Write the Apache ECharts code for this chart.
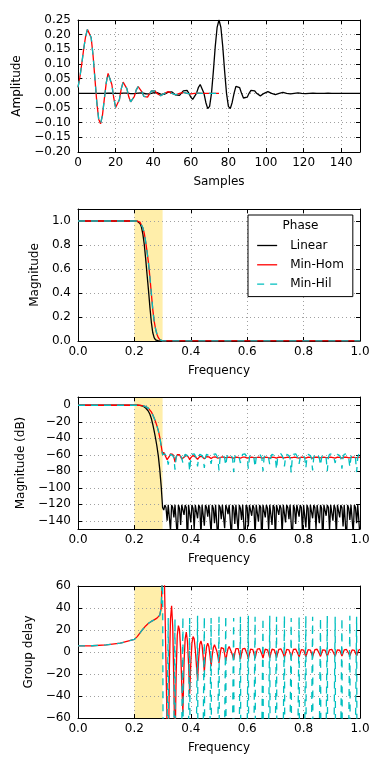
<!DOCTYPE html>
<html><head><meta charset="utf-8">
<script src="https://cdn.jsdelivr.net/npm/echarts@6/dist/echarts.min.js"></script>
<style>html,body{margin:0;padding:0;background:#fff}#c{width:384px;height:768px}</style>
</head><body><div id="c"></div>
<script>
// ---------- data ----------
const seriesNames = ['Linear', 'Min-Hom', 'Min-Hil'];
const bandEdges = [0.2, 0.3];

// impulse responses (index = sample number)
const hLinear = [0, 0, 0, 0, 0, -0.0001, 0, 0, 0.0001, 0.0001, 0.0001, 0, -0.0001, -0.0002, -0.0001, 0, 0.0002, 0.0003, 0.0002, 0, -0.0003, -0.0004, -0.0003, 0, 0.0004, 0.0006, 0.0005, 0, -0.0007, -0.0010, -0.0008, 0, 0.0010, 0.0015, 0.0012, 0, -0.0014, -0.0021, -0.0016, 0, 0.0019, 0.0030, 0.0023, 0, -0.0028, -0.0042, -0.0033, 0, 0.0040, 0.0061, 0.0047, 0, -0.0056, -0.0087, -0.0068, 0, 0.0085, 0.0133, 0.0103, 0, -0.0131, -0.0205, -0.0159, 0, 0.0192, 0.0302, 0.0238, 0, -0.0312, -0.0520, -0.0446, 0, 0.0750, 0.1592, 0.2251, 0.25,
 0.2251, 0.1592, 0.0750, 0, -0.0446, -0.0520, -0.0312, 0, 0.0238, 0.0302, 0.0192, 0, -0.0159, -0.0205, -0.0131, 0, 0.0103, 0.0133, 0.0085, 0, -0.0068, -0.0087, -0.0056, 0, 0.0047, 0.0061, 0.0040, 0, -0.0033, -0.0042, -0.0028, 0, 0.0023, 0.0030, 0.0019, 0, -0.0016, -0.0021, -0.0014, 0, 0.0012, 0.0015, 0.0010, 0, -0.0008, -0.0010, -0.0007, 0, 0.0005, 0.0006, 0.0004, 0, -0.0003, -0.0004, -0.0003, 0, 0.0002, 0.0003, 0.0002, 0, -0.0001, -0.0002, -0.0001, 0, 0.0001, 0.0001, 0.0001, 0, 0, -0.0001, 0, 0, 0, 0, 0];
const hMinHom = [0.020, 0.055, 0.100, 0.150, 0.192, 0.218, 0.220, 0.190, 0.130, 0.050, -0.030, -0.088, -0.104, -0.075, -0.020, 0.035, 0.068, 0.066, 0.030, -0.015, -0.048, -0.050, -0.022, 0.015, 0.038, 0.039, 0.016, -0.012, -0.029, -0.029, -0.010, 0.012, 0.023, 0.020, 0.005, -0.010, -0.016, -0.013, -0.002, 0.008, 0.011, 0.008, 0, -0.006, -0.008, -0.005, 0, 0.004, 0.006, 0.004, 0, -0.003, -0.005, -0.003, 0, 0.002, 0.003, 0.002, 0, -0.002, -0.002, -0.001, 0, 0.001, 0.001, 0.001, 0, 0, 0, 0, 0, 0, 0, 0, 0, 0];
const hMinHil = [0.020, 0.055, 0.100, 0.150, 0.192, 0.218, 0.220, 0.190, 0.130, 0.050, -0.030, -0.088, -0.104, -0.075, -0.020, 0.035, 0.068, 0.066, 0.030, -0.015, -0.048, -0.050, -0.022, 0.015, 0.038, 0.039, 0.016, -0.012, -0.029, -0.029, -0.010, 0.012, 0.023, 0.020, 0.005, -0.010, -0.016, -0.013, -0.002, 0.008, 0.011, 0.008, 0, -0.006, -0.008, -0.005, 0, 0.004, 0.006, 0.004, 0, -0.003, -0.005, -0.003, 0, 0.002, 0.003, 0.002, 0, -0.002, -0.002, -0.001, 0, 0.001, 0.001, 0.001, 0, 0, 0, 0, 0, 0, 0, 0, 0, 0];

// passband / transition frequency grid
const freqA = [0, 0.05, 0.1, 0.15, 0.2, 0.205, 0.21, 0.215, 0.22, 0.225, 0.23, 0.235, 0.24, 0.245, 0.25, 0.255, 0.26, 0.265, 0.27, 0.275, 0.28, 0.285, 0.29, 0.295, 0.3];
const magLinA = [1, 1, 1, 1, 1, 0.999, 0.998, 0.994, 0.979, 0.95, 0.891, 0.804, 0.684, 0.55, 0.422, 0.282, 0.158, 0.071, 0.028, 0.01, 0.003, 0.0008, 0.0001, 0, 0];
const magMinA = [1, 1, 1, 1, 1, 1, 0.999, 0.997, 0.99, 0.975, 0.944, 0.897, 0.827, 0.742, 0.65, 0.531, 0.398, 0.266, 0.168, 0.1, 0.056, 0.028, 0.011, 0.0035, 0.001];
const dbLinA = [0, 0, 0, 0, 0, -0.01, -0.02, -0.05, -0.18, -0.45, -1.0, -1.9, -3.3, -5.2, -7.5, -11, -16, -23, -31, -40, -50, -62, -78, -98, -124];
const dbMinA = [0, 0, 0, 0, 0, 0, -0.01, -0.025, -0.09, -0.22, -0.5, -0.95, -1.65, -2.6, -3.75, -5.5, -8, -11.5, -15.5, -20, -25, -31, -39, -49, -60];
const gdMinA = [5.5, 5.7, 6.4, 8, 11.5, 12.6, 14, 15.6, 17.3, 19, 20.7, 22.3, 23.7, 25, 26.1, 27, 27.8, 28.5, 29.2, 30, 30.8, 31.8, 33.5, 40, 75];

// stopband magnitude (linear scale)
const magStopFreq = [0.65, 1.0];
const magLinStop = [0, 0];
const magMinStop = [0.0007, 0.0007];

// stopband frequency grid
const freqB = [0.304, 0.308, 0.312, 0.316, 0.320, 0.324, 0.328, 0.332, 0.336, 0.340,
 0.344, 0.348, 0.352, 0.356, 0.360, 0.364, 0.368, 0.372, 0.376, 0.380,
 0.384, 0.388, 0.392, 0.396, 0.400, 0.404, 0.408, 0.412, 0.416, 0.420,
 0.424, 0.428, 0.432, 0.436, 0.440, 0.444, 0.448, 0.452, 0.456, 0.460,
 0.464, 0.468, 0.472, 0.476, 0.480, 0.484, 0.488, 0.492, 0.496, 0.500,
 0.504, 0.508, 0.512, 0.516, 0.520, 0.524, 0.528, 0.532, 0.536, 0.540,
 0.544, 0.548, 0.552, 0.556, 0.560, 0.564, 0.568, 0.572, 0.576, 0.580,
 0.584, 0.588, 0.592, 0.596, 0.600, 0.604, 0.608, 0.612, 0.616, 0.620,
 0.624, 0.628, 0.632, 0.636, 0.640, 0.644, 0.648, 0.652, 0.656, 0.660,
 0.664, 0.668, 0.672, 0.676, 0.680, 0.684, 0.688, 0.692, 0.696, 0.700,
 0.704, 0.708, 0.712, 0.716, 0.720, 0.724, 0.728, 0.732, 0.736, 0.740,
 0.744, 0.748, 0.752, 0.756, 0.760, 0.764, 0.768, 0.772, 0.776, 0.780,
 0.784, 0.788, 0.792, 0.796, 0.800, 0.804, 0.808, 0.812, 0.816, 0.820,
 0.824, 0.828, 0.832, 0.836, 0.840, 0.844, 0.848, 0.852, 0.856, 0.860,
 0.864, 0.868, 0.872, 0.876, 0.880, 0.884, 0.888, 0.892, 0.896, 0.900,
 0.904, 0.908, 0.912, 0.916, 0.920, 0.924, 0.928, 0.932, 0.936, 0.940,
 0.944, 0.948, 0.952, 0.956, 0.960, 0.964, 0.968, 0.972, 0.976, 0.980,
 0.984, 0.988, 0.992, 0.996, 1.000];
const dbLinB = [-127,
 -121,-124,-140, -120.8,-123,-152, -121,-124,-136, -120.7,-123,-160, -121,-125,-145, -120.8,-123,-133, -121,-124,-170, -120.7,-123,-142, -121,-125,-150, -120.8,-123,-137, -121,-124,-158, -120.7,-123,-146,
 -121,-124,-135, -120.8,-123,-155, -121,-125,-143, -120.7,-123,-165, -121,-124,-138, -120.8,-123,-149, -121,-125,-132, -120.7,-123,-161, -121,-124,-144, -120.8,-123,-153, -121,-125,-139, -120.7,-123,-168,
 -121,-124,-147, -120.8,-123,-134, -121,-125,-159, -120.7,-123,-141, -121,-124,-172, -120.8,-123,-136, -121,-125,-151, -120.7,-123,-145, -121,-124,-163, -120.8,-123,-133, -121,-125,-156, -120.7,-123,-142,
 -121,-124,-138, -120.8,-123,-166, -121,-125,-144, -120.7,-123,-135, -121,-124,-154, -120.8,-123,-148, -121,-125,-162, -120.7,-123,-137, -121,-124,-150, -120.8,-123,-143, -121,-125,-171, -120.7,-123,-134,
 -121,-124,-152, -120.8,-123,-140, -121,-125,-158, -120.7,-123,-136, -121,-124,-147, -120.8,-123,-165, -121,-125,-139, -120.7,-123,-155, -121,-124,-143, -120.8,-123,-160];
const dbHomB = [-57, -59, -63, -66, -68, -62, -59, -58.5, -59.5, -63,
 -69, -63, -60, -59.5, -60, -62, -65, -67, -63, -61,
 -60.5, -61, -63, -66, -63.5, -61.5, -61, -61.5, -62.5, -64.5,
 -65.5, -63.5, -62, -61.8, -62.2, -63.5, -65, -63.5, -62.3, -62.2,
 -62.6, -63.6, -64.6, -63.5, -62.8, -62.6, -62.7, -63.3, -64, -64.4,
 -63.5, -62.9, -62.7, -62.9, -63.6, -64.3, -63.4, -62.9, -62.8, -63,
 -63.5, -64, -64.2, -63.4, -62.9, -62.8, -63.1, -63.7, -64.2, -63.3,
 -62.9, -62.8, -63, -63.5, -64, -64.2, -63.4, -63, -62.9, -63.1,
 -63.6, -64.1, -63.4, -63, -62.9, -63, -63.4, -63.9, -64.1, -63.4,
 -63, -62.9, -63.1, -63.6, -64, -63.4, -63, -62.9, -63.1, -63.6,
 -64, -63.4, -63, -62.9, -63, -63.4, -63.9, -64.1, -63.4, -63,
 -62.9, -63.1, -63.6, -64, -63.4, -63, -62.9, -63, -63.4, -63.9,
 -64.1, -63.4, -63, -62.9, -63.1, -63.6, -64, -63.4, -63, -62.9,
 -63.1, -63.6, -64, -63.4, -63, -62.9, -63, -63.4, -63.9, -64.1,
 -63.4, -63, -62.9, -63.1, -63.6, -64, -63.4, -63, -62.9, -63,
 -63.4, -63.9, -64.1, -63.4, -63, -62.9, -63.1, -63.6, -64, -63.4,
 -63, -62.9, -63, -63.4, -63.9, -64.1, -63.4, -63, -62.9, -63.1,
 -63.6, -64, -63.4, -63, -62.9];
const dbHilB = [-58, -59, -61, -64, -72, -63, -59.5, -58.5, -61, -64,
 -78, -63, -59.5, -58.3, -58.8, -61, -64, -70, -63, -59.5,
 -58.5, -61, -64, -80, -63, -59.5, -58.3, -58.8, -61, -64,
 -74, -63, -59.5, -58.5, -61, -64, -76, -63, -59.5, -58.5,
 -61, -64, -71, -63, -59.5, -58.3, -58.8, -61, -64, -79,
 -63, -59.5, -58.5, -61, -64, -73, -63, -59.5, -58.3, -58.8,
 -61, -64, -81, -63, -59.5, -58.5, -61, -64, -70, -63,
 -59.5, -58.3, -58.8, -61, -64, -77, -63, -59.5, -58.5, -61,
 -64, -75, -63, -59.5, -58.3, -58.8, -61, -64, -80, -63,
 -59.5, -58.5, -61, -64, -72, -63, -59.5, -58.5, -61, -64,
 -78, -63, -59.5, -58.3, -58.8, -61, -64, -74, -63, -59.5,
 -58.5, -61, -64, -82, -63, -59.5, -58.3, -58.8, -61, -64,
 -71, -63, -59.5, -58.5, -61, -64, -76, -63, -59.5, -58.5,
 -61, -64, -79, -63, -59.5, -58.3, -58.8, -61, -64, -73,
 -63, -59.5, -58.5, -61, -64, -80, -63, -59.5, -58.3, -58.8,
 -61, -64, -70, -63, -59.5, -58.5, -61, -64, -77, -63,
 -59.5, -58.3, -58.8, -61, -64, -75, -63, -59.5, -58.5, -61,
 -64, -81, -63, -59.5, -58.5];
const gdHomB = [95, 45, -10, -70, -130, -15, 30, 42, 22, -30,
 -95, -20, 15, 24, 20, 2, -30, -55, -10, 12,
 18, 10, -10, -38, -10, 8, 14, 12, 2, -12,
 -26, -6, 7, 10, 6, -5, -18, -4, 5, 8,
 5, -3, -13, -3, 4, 6.5, 5, 1, -4, -10,
 -2, 4, 5.5, 3, -2, -8, -2, 3, 5, 4,
 0, -3, -7, -1.5, 3, 4.5, 3, -1.5, -6.5, -1.5,
 2.8, 4, 3.2, 0.5, -2, -6, -1.5, 2.7, 3.8, 2.2,
 -1.5, -5.8, -1.3, 2.6, 3.7, 3, 0.5, -2, -5.5, -1.3,
 2.5, 3.5, 2, -1.4, -5.2, -1.2, 2.5, 3.4, 2, -1.3,
 -5, -1.2, 2.4, 3.3, 2.8, 0.5, -1.8, -4.8, -1.1, 2.3,
 3.2, 1.9, -1.2, -4.6, -1.1, 2.3, 3.1, 2.7, 0.5, -1.7,
 -4.5, -1, 2.2, 3, 1.8, -1.1, -4.3, -1, 2.2, 3,
 1.8, -1.1, -4.2, -1, 2.1, 2.9, 2.5, 0.5, -1.6, -4,
 -0.9, 2, 2.8, 1.7, -1, -3.9, -0.9, 2, 2.8, 2.4,
 0.5, -1.5, -3.8, -0.8, 2, 2.7, 1.6, -1, -3.6, -0.8,
 1.9, 2.6, 2.3, 0.5, -1.4, -3.5, -0.8, 1.9, 2.6, 1.5,
 -1, -3.4, -0.7, 1.8, 2.5];
const gdHilB = [-300, -300, -300, -70, 31, -400, -400, -400, -400, -70,
 30, -400, -400, -400, -400, -400, -70, 32, -400, -400,
 -400, -400, -70, 31, -400, -400, -400, -400, -400, -70,
 33, -400, -400, -400, -400, -70, 32, -400, -400, -400,
 -400, -70, 31, -400, -400, -400, -400, -400, -70, 32,
 -400, -400, -400, -400, -70, 33, -400, -400, -400, -400,
 -400, -70, 31, -400, -400, -400, -400, -70, 32, -400,
 -400, -400, -400, -400, -70, 33, -400, -400, -400, -400,
 -70, 32, -400, -400, -400, -400, -400, -70, 31, -400,
 -400, -400, -400, -70, 33, -400, -400, -400, -400, -70,
 32, -400, -400, -400, -400, -400, -70, 33, -400, -400,
 -400, -400, -70, 31, -400, -400, -400, -400, -400, -70,
 32, -400, -400, -400, -400, -70, 33, -400, -400, -400,
 -400, -70, 32, -400, -400, -400, -400, -400, -70, 31,
 -400, -400, -400, -400, -70, 33, -400, -400, -400, -400,
 -400, -70, 32, -400, -400, -400, -400, -70, 31, -400,
 -400, -400, -400, -400, -70, 33, -400, -400, -400, -400,
 -70, 32, -400, -400, -400];

// axis ticks
const sampleTicks = [0, 20, 40, 60, 80, 100, 120, 140];
const ampTicks = [-0.2, -0.15, -0.1, -0.05, 0, 0.05, 0.1, 0.15, 0.2, 0.25];
const freqTicks = [0, 0.2, 0.4, 0.6, 0.8, 1.0];
const magTicks = [0, 0.2, 0.4, 0.6, 0.8, 1.0];
const dbTicks = [-140, -120, -100, -80, -60, -40, -20, 0];
const gdTicks = [-60, -40, -20, 0, 20, 40, 60];

// ---------- chart ----------
const FONT = 'DejaVu Sans';
const LW = 1.3;
const COLORS = {'Linear': '#000000', 'Min-Hom': '#ff0000', 'Min-Hil': '#00bfbf'};
const DASH = {'Linear': 'solid', 'Min-Hom': 'solid', 'Min-Hil': [7, 6]};
function fmt(v, d) {
  const s = d == null ? String(Math.round(v)) : v.toFixed(d);
  return s.replace('-', '\u2212');
}
function pairs(xs, ys) { return xs.map((x, i) => [x, ys[i]]); }
function idxPairs(ys) { return ys.map((y, i) => [i, y]); }

const axisLine = {show: true, onZero: false, lineStyle: {color: '#000', width: 1}};
function tick(ticks) { return {show: true, inside: true, length: 4, customValues: ticks, lineStyle: {color: '#000', width: 1}}; }
const splitLine = {show: true, lineStyle: {color: '#a0a0a0', width: 1, type: [1, 3]}};
const nameStyle = {fontSize: 12, fontFamily: FONT, color: '#000'};

const grids = [20, 209, 397, 586].map(t => ({left: 78, right: 24, top: t, height: 132, containLabel: false, outerBoundsMode: 'none'}));

const xSpec = [
  {min: 0, max: 150, ticks: sampleTicks, dec: null, name: 'Samples'},
  {min: 0, max: 1, ticks: freqTicks, dec: 1, name: 'Frequency'},
  {min: 0, max: 1, ticks: freqTicks, dec: 1, name: 'Frequency'},
  {min: 0, max: 1, ticks: freqTicks, dec: 1, name: 'Frequency'}
];
const ySpec = [
  {min: -0.2, max: 0.25, ticks: ampTicks, dec: 2, name: 'Amplitude', gap: 52},
  {min: 0, max: 1.1, ticks: magTicks, dec: 1, name: 'Magnitude', gap: 34},
  {min: -150, max: 10, ticks: dbTicks, dec: null, name: 'Magnitude (dB)', gap: 50},
  {min: -60, max: 60, ticks: gdTicks, dec: null, name: 'Group delay', gap: 42}
];

const xAxes = [], yAxes = [];
xSpec.forEach((s, g) => xAxes.push({
  type: 'value', gridIndex: g, position: 'bottom', min: s.min, max: s.max,
  axisLine, axisTick: tick(s.ticks), splitLine,
  axisLabel: {show: true, customValues: s.ticks, margin: 5, fontSize: 12, fontFamily: FONT, color: '#000', formatter: v => fmt(v, s.dec)},
  name: s.name, nameLocation: 'middle', nameGap: 24, nameTextStyle: nameStyle
}));
xSpec.forEach((s, g) => xAxes.push({
  type: 'value', gridIndex: g, position: 'top', min: s.min, max: s.max,
  axisLine, axisTick: tick(s.ticks), axisLabel: {show: false}, splitLine: {show: false}
}));
ySpec.forEach((s, g) => yAxes.push({
  type: 'value', gridIndex: g, position: 'left', min: s.min, max: s.max,
  axisLine, axisTick: tick(s.ticks), splitLine,
  axisLabel: {show: true, customValues: s.ticks, margin: 7, fontSize: 12, fontFamily: FONT, color: '#000', formatter: v => fmt(v, s.dec)},
  name: s.name, nameLocation: 'middle', nameGap: s.gap, nameRotate: 90, nameTextStyle: nameStyle
}));
ySpec.forEach((s, g) => yAxes.push({
  type: 'value', gridIndex: g, position: 'right', min: s.min, max: s.max,
  axisLine, axisTick: tick(s.ticks), axisLabel: {show: false}, splitLine: {show: false}
}));

function line(name, g, data) {
  return {
    type: 'line', name, xAxisIndex: g, yAxisIndex: g, data,
    symbol: 'none', showSymbol: false, clip: true, animation: false,
    lineStyle: {color: COLORS[name], width: LW, type: DASH[name]},
    itemStyle: {color: COLORS[name]}, z: 2
  };
}
function band(g, top) {
  return {
    type: 'line', xAxisIndex: g, yAxisIndex: g, data: [[bandEdges[0], top], [bandEdges[1], top]],
    symbol: 'none', silent: true, z: -1, animation: false,
    lineStyle: {width: 0, opacity: 0}, areaStyle: {color: '#ffeeaa', opacity: 1, origin: 'start'}
  };
}

const series = [
  band(1, ySpec[1].max), band(2, ySpec[2].max), band(3, ySpec[3].max),
  line('Linear', 0, idxPairs(hLinear)),
  line('Min-Hom', 0, idxPairs(hMinHom)),
  line('Min-Hil', 0, idxPairs(hMinHil)),
  line('Linear', 1, pairs(freqA, magLinA).concat(pairs(magStopFreq, magLinStop))),
  line('Min-Hom', 1, pairs(freqA, magMinA).concat(pairs(magStopFreq, magMinStop))),
  line('Min-Hil', 1, pairs(freqA, magMinA).concat(pairs(magStopFreq, magMinStop))),
  line('Linear', 2, pairs(freqA, dbLinA).concat(pairs(freqB, dbLinB))),
  line('Min-Hom', 2, pairs(freqA, dbMinA).concat(pairs(freqB, dbHomB))),
  line('Min-Hil', 2, pairs(freqA, dbMinA).concat(pairs(freqB, dbHilB))),
  line('Min-Hom', 3, pairs(freqA, gdMinA).concat(pairs(freqB, gdHomB))),
  line('Min-Hil', 3, pairs(freqA, gdMinA).concat(pairs(freqB, gdHilB)))
];

const chart = echarts.init(document.getElementById('c'), null, {renderer: 'canvas', width: 384, height: 768});
chart.setOption({
  animation: false,
  backgroundColor: '#fff',
  textStyle: {fontFamily: FONT},
  grid: grids,
  xAxis: xAxes,
  yAxis: yAxes,
  legend: {
    data: seriesNames, orient: 'vertical', left: 248, top: 215,
    padding: [24.5, 9, 6.5, 8.5], itemWidth: 20, itemHeight: 12, itemGap: 7.3,
    borderColor: '#000', borderWidth: 1, borderRadius: 0, backgroundColor: '#fff',
    selectedMode: false, itemStyle: {opacity: 0}, lineStyle: {width: LW},
    textStyle: {fontSize: 12, fontFamily: FONT, color: '#000', padding: [0, 0, 0, 8], lineHeight: 12}
  },
  graphic: [{
    type: 'text', x: 300.5, y: 225.5, z: 100,
    style: {text: 'Phase', font: '12px "DejaVu Sans"', fill: '#000', align: 'center', verticalAlign: 'middle'}
  }],
  series
});
</script></body></html>
